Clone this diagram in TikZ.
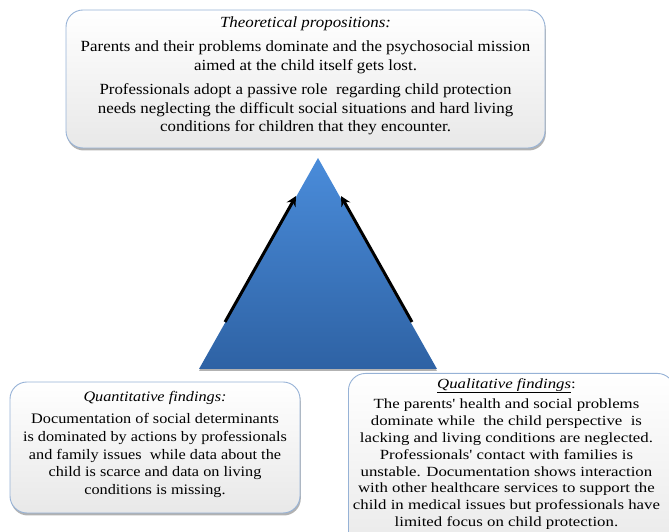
\documentclass[tikz,border=0pt]{standalone}
\usepackage{fontspec}
\setmainfont{Liberation Serif}
\newfontfamily\topfont[FakeStretch=1.09]{Liberation Serif}
\newfontfamily\leftfont[FakeStretch=1.12]{Liberation Serif}
\newfontfamily\rightfont[FakeStretch=1.2]{Liberation Serif}
\usetikzlibrary{shadows,arrows.meta}
\definecolor{boxborder}{RGB}{150,178,214}
\definecolor{tritop}{RGB}{74,140,218}
\definecolor{tribot}{RGB}{46,98,164}
\begin{document}
\begin{tikzpicture}[x=1pt,y=1pt,
  box/.style={draw=boxborder, line width=0.9pt, rounded corners=17pt,
    top color=white, bottom color=black!9,
    drop shadow={shadow xshift=0.8pt, shadow yshift=-2.5pt, fill=black, opacity=0.3}},
  txt/.style={align=center, inner sep=0pt},
  arr/.style={line width=3pt, -{Stealth[length=10pt,width=10pt]}}]
\useasboundingbox (0,0) rectangle (669,532);
\clip (0,0) rectangle (669,532);
% triangle
\coordinate (apex) at (318,374);
\coordinate (bl) at (199,163);
\coordinate (br) at (437,163);
\shade[top color=tritop, bottom color=tribot, drop shadow={shadow xshift=0pt, shadow yshift=-2pt, fill=black, opacity=0.3}] (apex) -- (br) -- (bl) -- cycle;
% arrows
\coordinate (la1) at (225,210);
\coordinate (la2) at (296,336);
\coordinate (ra1) at (412,210);
\coordinate (ra2) at (341,336);
\draw[arr] (la1) -- (la2);
\draw[arr] (ra1) -- (ra2);
% top box
\node[box, minimum width=479pt, minimum height=138pt] (top) at (305.5,453) {};
\node[txt, anchor=north, font=\topfont\fontsize{15.5}{18.5}\selectfont] (toptext) at ([yshift=-7pt]top.north)
 {\textit{Theoretical propositions:}\\[6pt]
  Parents and their problems dominate and the psychosocial mission\\
  aimed at the child itself gets lost.\\[6pt]
  Professionals adopt a passive role\ \ regarding child protection\\
  needs neglecting the difficult social situations and hard living\\
  conditions for children that they encounter.};
% left box
\node[box, minimum width=290pt, minimum height=131pt] (left) at (155,84.5) {};
\node[txt, anchor=north, font=\leftfont\fontsize{14.5}{17.7}\selectfont] (lefttext) at ([yshift=-10pt]left.north)
 {\textit{Quantitative findings:}\\[4pt]
  Documentation of social determinants\\
  is dominated by actions by professionals\\
  and family issues\ \ while data about the\\
  child is scarce and data on living\\
  conditions is missing.};
% right box
\node[box, minimum width=326pt, minimum height=190pt, anchor=north west] (right) at (348,159) {};
\node[txt, anchor=north, font=\rightfont\fontsize{14}{16.8}\selectfont] (righttext) at ([xshift=-5pt,yshift=-5pt]right.north)
 {\underline{\textit{Qualitative findings}}:\\[4pt]
  The parents' health and social problems\\
  dominate while\ \ the child perspective\ \ is\\
  lacking and living conditions are neglected.\\
  Professionals' contact with families is\\
  unstable. Documentation shows interaction\\
  with other healthcare services to support the\\
  child in medical issues but professionals have\\
  limited focus on child protection.};
\end{tikzpicture}
\end{document}
